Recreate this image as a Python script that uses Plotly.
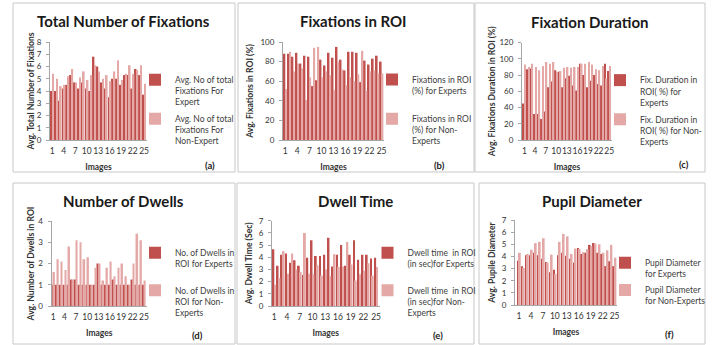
import plotly.graph_objects as go

W, H = 712, 345

# ---------------- data ----------------
images = list(range(1, 26))
xtick_vals = [1, 4, 7, 10, 13, 16, 19, 22, 25]

fix_total_expert = [4.0, 4.0, 3.2, 4.2, 4.5, 5.3, 4.7, 4.2, 4.7, 4.2, 4.0, 6.8, 6.0,
                    4.7, 4.2, 3.5, 5.0, 5.0, 4.5, 5.3, 5.3, 4.2, 5.8, 5.3, 3.7]
fix_total_nonexpert = [5.4, 5.0, 4.4, 4.5, 5.2, 5.8, 4.7, 5.1, 5.6, 4.9, 5.3, 6.1, 5.6,
                       5.0, 5.3, 4.8, 5.6, 6.5, 4.9, 5.4, 6.1, 5.4, 5.7, 6.1, 4.6]

fix_roi_expert = [88, 88, 85, 89, 78, 86, 85, 55, 61, 82, 76, 89, 84,
                  95, 82, 71, 90, 90, 89, 59, 81, 77, 83, 86, 80]
fix_roi_nonexpert = [52, 90, 70, 78, 73, 41, 64, 94, 95, 64, 70, 66, 51,
                     80, 72, 56, 64, 60, 67, 91, 50, 70, 71, 68, 68]

fix_dur_expert = [45, 87, 88, 32, 32, 26, 35, 65, 72, 86, 84, 65, 76,
                  79, 67, 61, 94, 80, 65, 73, 80, 69, 67, 94, 85]
fix_dur_nonexpert = [93, 90, 94, 90, 86, 91, 96, 94, 96, 84, 85, 89, 90,
                     89, 90, 90, 94, 94, 96, 93, 87, 86, 91, 76, 91]

dwells_expert = [1, 1, 1, 1, 1, 1.25, 1.25, 1, 1, 1, 1, 1, 2,
                 1, 1, 1, 1.25, 1, 1, 1, 1, 1.25, 1, 1, 1]
dwells_nonexpert = [1.6, 2.2, 2.1, 1.7, 2.8, 1.25, 3.1, 3.0, 2.2, 2.3, 1.0, 1.8, 2.0,
                    1.2, 1.8, 2.1, 1.4, 1.8, 2.0, 1.4, 1.0, 2.0, 3.4, 3.1, 1.2]

dwell_time_expert = [4.65, 3.3, 4.2, 4.3, 3.55, 3.75, 3.3, 2.55, 3.95, 5.4, 4.1, 4.1, 4.2,
                     5.6, 3.25, 4.2, 5.0, 3.3, 4.2, 5.4, 3.8, 4.2, 4.2, 3.9, 3.95]
dwell_time_nonexpert = [1.75, 2.3, 4.5, 2.65, 4.3, 3.0, 2.8, 6.0, 2.65, 2.6, 3.35, 2.5, 3.0,
                        2.45, 4.25, 3.2, 3.25, 5.25, 3.4, 2.1, 2.6, 2.9, 3.5, 2.5, 3.2]

pupil_expert = [3.65, 3.2, 4.1, 4.1, 4.3, 4.1, 3.8, 3.55, 2.7, 2.9, 4.1, 4.3, 4.05,
                3.8, 3.5, 4.7, 4.2, 4.3, 4.95, 5.1, 4.3, 4.2, 3.2, 3.6, 3.2]
pupil_nonexpert = [4.3, 3.05, 4.2, 4.55, 5.1, 5.2, 5.5, 3.5, 4.15, 2.55, 5.2, 5.85, 5.65,
                   4.2, 4.65, 4.6, 4.35, 4.6, 4.85, 5.05, 5.0, 4.3, 4.5, 4.95, 3.9]

panel_titles = ["Total Number of Fixations", "Fixations in ROI", "Fixation Duration",
                "Number of Dwells", "Dwell Time", "Pupil Diameter"]
y_titles = ["Avg. Total Number of Fixations", "Avg. Fixations in ROI (%)",
            "Avg. Fixations Duration in ROI (%)", "Avg. Number of Dwells in ROI",
            "Avg. Dwell Time (Sec)", "Avg. Pupile Diameter"]
x_title = "Images"
legend_expert = ["Avg. No of total<br>Fixations For<br>Expert",
                 "Fixations in ROI<br>(%) for Experts",
                 "Fix. Duration in<br>ROI( %) for<br>Experts",
                 "No. of Dwells in<br>ROI for Experts",
                 "Dwell time  in ROI<br>(in sec)for Experts",
                 "Pupil Diameter<br>for Experts"]
legend_nonexpert = ["Avg. No of total<br>Fixations For<br>Non-Expert",
                    "Fixations in ROI<br>(%) for Non-<br>Experts",
                    "Fix. Duration in<br>ROI( %) for Non-<br>Experts",
                    "No. of Dwells in<br>ROI for Non-<br>Experts",
                    "Dwell time  in ROI<br>(in sec)for Non-<br>Experts",
                    "Pupil Diameter<br>for Non-Experts"]
panel_tags = ["(a)", "(b)", "(c)", "(d)", "(e)", "(f)"]
y_max = [8, 100, 120, 4, 7, 7]
y_step = [1, 20, 20, 1, 1, 1]

series = [(fix_total_expert, fix_total_nonexpert),
          (fix_roi_expert, fix_roi_nonexpert),
          (fix_dur_expert, fix_dur_nonexpert),
          (dwells_expert, dwells_nonexpert),
          (dwell_time_expert, dwell_time_nonexpert),
          (pupil_expert, pupil_nonexpert)]

# ---------------- styles / layout (pixels) ----------------
EXPERT_COLOR = "#C0504D"
NONEXPERT_COLOR = "#E4A9A7"
FONT = "Lato"
BOX_COLOR = "#C8C8C8"
AXIS_COLOR = "#A6A6A6"
LEG_SIZE = 8.5

panels = [
    dict(box=(13, 3, 235, 172), plot=(50, 42, 147, 140), xr=(0.4, 25.75),
         title=(123, 21), tag=(210, 165), leg_y=77, ystand=0, tgap=3),
    dict(box=(238, 3, 474, 172), plot=(283, 42, 384, 140), xr=(0.43, 25.6),
         title=(353, 21), tag=(439, 165), leg_y=77, ystand=5, tgap=14),
    dict(box=(475, 3, 705, 172), plot=(522, 42.5, 612, 140), xr=(0.3, 25.8),
         title=(590, 21.5), tag=(684, 164), leg_y=77.5, ystand=2, tgap=3),
    dict(box=(13, 183, 235, 344), plot=(51.5, 221, 147, 306), xr=(0.55, 25.8),
         title=(123, 200.5), tag=(197, 335.5), leg_y=250, ystand=2, tgap=12.6),
    dict(box=(237, 183, 474, 344), plot=(272, 220.7, 379.5, 306), xr=(0.46, 25.8),
         title=(355, 200.5), tag=(438, 335), leg_y=250, ystand=4, tgap=12.6),
    dict(box=(479, 183, 705, 344), plot=(515, 220, 617, 305), xr=(0.0, 25.6),
         title=(592, 200.5), tag=(669, 334), leg_y=260, ystand=4, tgap=2.2),
]


def fx(px):
    return px / W


def fy(py):
    return 1 - py / H


fig = go.Figure()
layout = dict(
    width=W, height=H, margin=dict(l=0, r=0, t=0, b=0, autoexpand=False),
    paper_bgcolor="white", plot_bgcolor="white",
    barmode="group", bargap=0.12, bargroupgap=0.0,
    font=dict(family=FONT, color="#333333"),
    shapes=[], annotations=[],
)

for i, p in enumerate(panels):
    n = i + 1
    sfx = "" if n == 1 else str(n)
    xa, ya = "x" + sfx, "y" + sfx
    leg = "legend" + sfx
    exp_vals, non_vals = series[i]

    fig.add_trace(go.Bar(x=images, y=exp_vals, name=legend_expert[i],
                         marker=dict(color=EXPERT_COLOR, line=dict(width=0)),
                         xaxis=xa, yaxis=ya, legend=leg, legendgroup=f"e{n}"))
    fig.add_trace(go.Bar(x=images, y=non_vals, name=legend_nonexpert[i],
                         marker=dict(color=NONEXPERT_COLOR, line=dict(width=0)),
                         xaxis=xa, yaxis=ya, legend=leg, legendgroup=f"n{n}"))

    x0, y0, x1, y1 = p["plot"]
    layout["xaxis" + sfx] = dict(
        domain=[fx(x0), fx(x1)], anchor=ya, range=list(p["xr"]),
        tickmode="array", tickvals=xtick_vals, ticks="", tickangle=0,
        showline=True, linecolor=AXIS_COLOR, linewidth=1,
        showgrid=False, zeroline=False, ticklabelstandoff=3,
        tickfont=dict(size=8.5, color="#333333"),
        title=dict(text=f"<b>{x_title}</b>", standoff=8,
                   font=dict(size=8.5, color="#333333")),
    )
    layout["yaxis" + sfx] = dict(
        domain=[fy(y1), fy(y0)], anchor=xa, range=[0, y_max[i]],
        dtick=y_step[i], tick0=0, ticks="outside", ticklen=3, tickcolor=AXIS_COLOR,
        showline=True, linecolor=AXIS_COLOR, linewidth=1,
        showgrid=False, zeroline=False, ticklabelstandoff=3,
        tickfont=dict(size=8, color="#333333"),
        title=dict(text=f"<b>{y_titles[i]}</b>", standoff=p["ystand"],
                   font=dict(size=8.6, color="#333333")),
    )

    # legend text begins 40px right of the legend's left edge
    text_x = x1 + 28
    layout[leg] = dict(
        x=fx(text_x - 40), y=fy(p["leg_y"] - 9.4), xanchor="left", yanchor="top",
        bgcolor="rgba(0,0,0,0)", valign="top", tracegroupgap=p["tgap"],
        font=dict(size=LEG_SIZE, color="#404040", family=FONT),
        itemclick=False, itemdoubleclick=False,
    )

    bx0, by0, bx1, by1 = p["box"]
    layout["shapes"].append(dict(type="rect", xref="paper", yref="paper",
                                 x0=fx(bx0), x1=fx(bx1), y0=fy(by1), y1=fy(by0),
                                 line=dict(color=BOX_COLOR, width=1), layer="below"))

    tx, ty = p["title"]
    layout["annotations"].append(dict(text=f"<b>{panel_titles[i]}</b>", x=fx(tx), y=fy(ty),
                                      xref="paper", yref="paper", showarrow=False,
                                      xanchor="center", yanchor="middle",
                                      font=dict(size=15, color="#1A1A1A", family=FONT)))
    gx, gy = p["tag"]
    layout["annotations"].append(dict(text=f"<b>{panel_tags[i]}</b>", x=fx(gx), y=fy(gy),
                                      xref="paper", yref="paper", showarrow=False,
                                      xanchor="center", yanchor="middle",
                                      font=dict(size=9.5, color="#1A1A1A", family=FONT)))

fig.update_layout(**layout)
fig.write_html("out.html", config={"displayModeBar": False},
               post_script="document.body.style.margin='0';document.body.style.overflow='hidden';")
